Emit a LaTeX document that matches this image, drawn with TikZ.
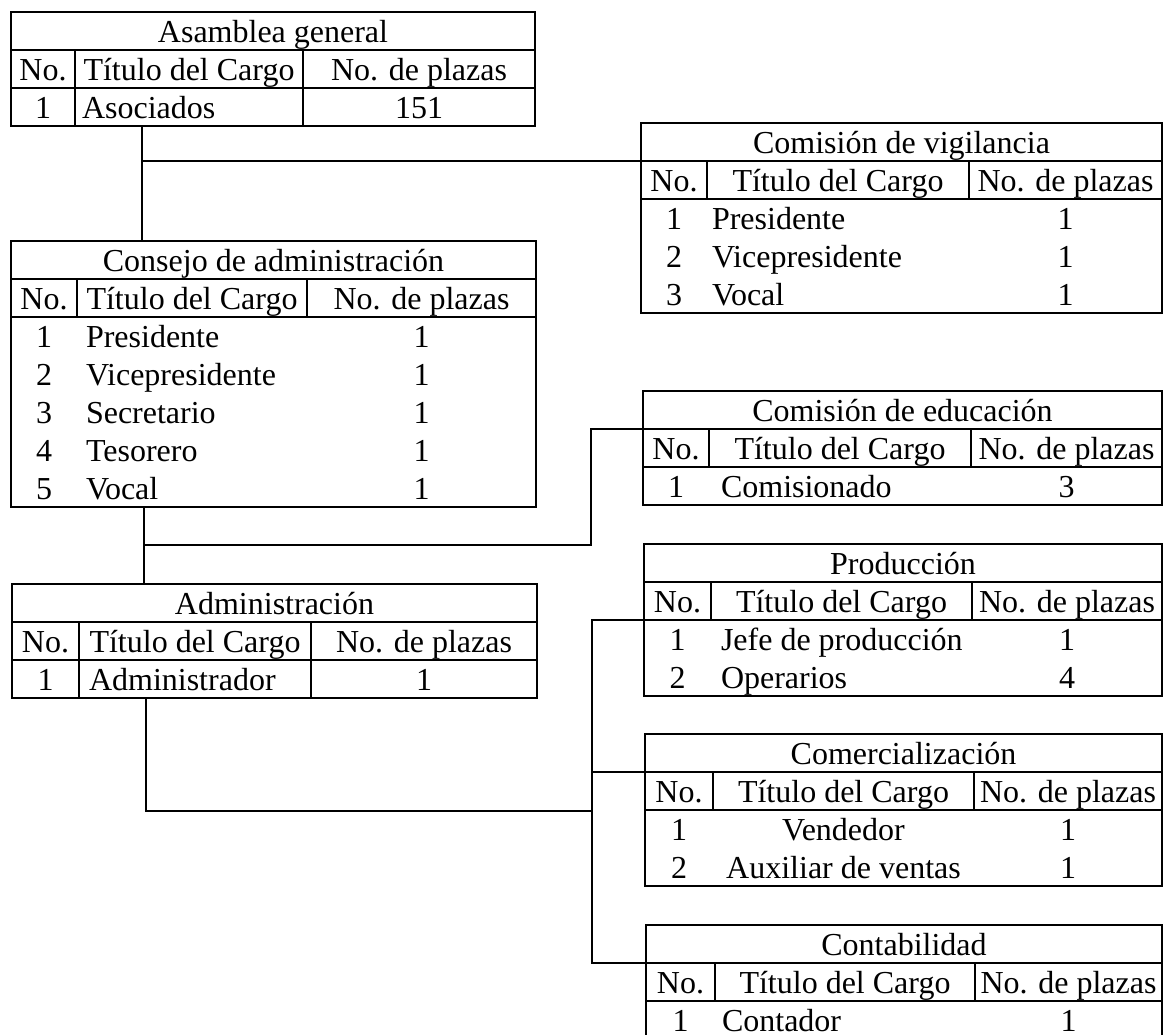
\documentclass[tikz,border=0pt]{standalone}
\usepackage{fontspec}
\setmainfont{Liberation Serif}
\tikzset{
  linea/.style={line width=1pt, line join=miter},
  caja/.style={draw, line width=1pt, anchor=north west, inner sep=0pt, outer sep=0pt},
  txt/.style={inner sep=0pt, outer sep=0pt, font=\fontsize{16pt}{19pt}\selectfont, anchor=base},
  tal/.style={anchor=base west}
}
% #1 name, #2 left, #3 top, #4 right, #5 col1, #6 col2, #7 data rows, #8 title, #9 dividers in data rows (1/0)
\newcommand\tabla[9]{%
  \pgfmathsetmacro\TbBot{#3+76+38*#7}%
  \pgfmathsetmacro\TbW{(#4-#2)*0.5}%
  \pgfmathsetmacro\TbH{(\TbBot-#3)*0.5}%
  \ifnum#9=1 \pgfmathsetmacro\TbD{\TbBot}\else\pgfmathsetmacro\TbD{#3+76}\fi
  \node[caja, minimum width=\TbW pt, minimum height=\TbH pt] (#1) at (#2,#3) {};
  \coordinate (#1-t) at (#2,#3+38);
  \coordinate (#1-h) at (#2,#3+76);
  \draw[linea] (#2,#3+38) -- (#4,#3+38);
  \draw[linea] (#2,#3+76) -- (#4,#3+76);
  \draw[linea] (#5,#3+38) -- (#5,\TbD);
  \draw[linea] (#6,#3+38) -- (#6,\TbD);
  \node[txt] (#1-title) at ({(#2+#4)/2},#3+30) {#8};
  \node[txt] (#1-hno) at ({(#2+#5)/2},#3+68) {No.};
  \node[txt] (#1-htit) at ({(#5+#6)/2},#3+68) {Título del Cargo};
  \node[txt] (#1-hpla) at ({(#6+#4)/2},#3+68) {No. de plazas};
  \xdef\TbN{#1}\xdef\TbL{#2}\xdef\TbT{#3}\xdef\TbR{#4}\xdef\TbA{#5}\xdef\TbB{#6}%
}
% #1 row index, #2 number, #3 title, #4 plazas
\newcommand\fila[4]{%
  \pgfmathsetmacro\TbY{\TbT+76+38*#1-8}%
  \node[txt] (\TbN-r#1a) at ({(\TbL+\TbA)/2},\TbY) {#2};
  \node[txt, tal] (\TbN-r#1b) at (\TbX,\TbY) {#3};
  \node[txt] (\TbN-r#1c) at ({(\TbB+\TbR)/2},\TbY) {#4};
}
\begin{document}
\begin{tikzpicture}[x=0.5pt, y=-0.5pt]
\useasboundingbox (0,0) rectangle (1165,1034);

% Asamblea general
\tabla{asam}{11}{12}{535}{75}{303}{1}{Asamblea general}{1}
\tikzset{tal/.style={anchor=base west}}\def\TbX{82}
\fila{1}{1}{Asociados}{151}

% Consejo de administracion
\tabla{cons}{11}{241}{536}{77}{307}{5}{Consejo de administración}{0}
\def\TbX{86}
\fila{1}{1}{Presidente}{1}
\fila{2}{2}{Vicepresidente}{1}
\fila{3}{3}{Secretario}{1}
\fila{4}{4}{Tesorero}{1}
\fila{5}{5}{Vocal}{1}

% Administracion
\tabla{admin}{12}{584}{537}{79}{311}{1}{Administración}{1}
\def\TbX{89}
\fila{1}{1}{Administrador}{1}

% Comision de vigilancia
\tabla{vig}{641}{123}{1162}{707}{969}{3}{Comisión de vigilancia}{0}
\def\TbX{712}
\fila{1}{1}{Presidente}{1}
\fila{2}{2}{Vicepresidente}{1}
\fila{3}{3}{Vocal}{1}

% Comision de educacion
\tabla{edu}{643}{391}{1162}{709}{971}{1}{Comisión de educación}{0}
\def\TbX{721}
\fila{1}{1}{Comisionado}{3}

% Produccion
\tabla{prod}{644}{544}{1162}{711}{972}{2}{Producción}{0}
\def\TbX{721}
\fila{1}{1}{Jefe de producción}{1}
\fila{2}{2}{Operarios}{4}

% Comercializacion
\tabla{com}{645}{734}{1162}{713}{974}{2}{Comercialización}{0}
\tikzset{tal/.style={anchor=base}}\def\TbX{843.5}
\fila{1}{1}{Vendedor}{1}
\fila{2}{2}{Auxiliar de ventas}{1}

% Contabilidad
\tabla{cont}{646}{925}{1162}{715}{975}{1}{Contabilidad}{0}
\tikzset{tal/.style={anchor=base west}}\def\TbX{722}
\fila{1}{1}{Contador}{1}

% connectors
\coordinate (j1) at (142,162);
\draw[linea] (asam.south -| j1) -- (cons.north -| j1);
\draw[linea] (j1 |- vig-t) -- (vig-t);

\coordinate (j2) at (144,545);
\coordinate (j3) at (591,545);
\draw[linea] (cons.south -| j2) -- (admin.north -| j2);
\draw[linea] (j2) -- (j3) -- (j3 |- edu-t) -- (edu-t);

\coordinate (j4) at (146,811);
\coordinate (j5) at (592,811);
\draw[linea] (admin.south -| j4) -- (j4) -- (j5);
\draw[linea] (prod-h) -- (j5 |- prod-h) -- (j5 |- cont-t) -- (cont-t);
\draw[linea] (j5 |- com-t) -- (com-t);
\end{tikzpicture}
\end{document}
